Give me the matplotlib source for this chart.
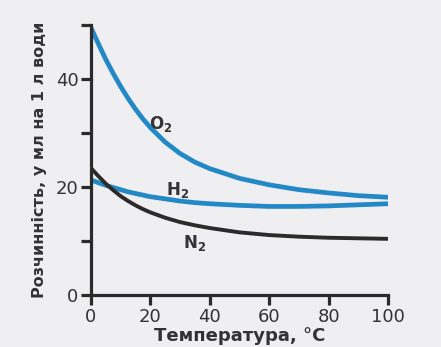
import matplotlib
matplotlib.use("Agg")
import matplotlib.pyplot as plt

# Solubility of gases in water (ml per 1 l) vs temperature
temps = [0, 2.5, 5, 7.5, 10, 12.5, 15, 17.5, 20, 25, 30, 35, 40, 50, 60, 70, 80, 90, 100]
o2 = [49.5, 46.5, 43.6, 41.0, 38.6, 36.4, 34.4, 32.6, 31.0, 28.3, 26.2, 24.6, 23.4,
      21.6, 20.4, 19.5, 18.9, 18.4, 18.1]
h2 = [21.3, 20.8, 20.3, 19.9, 19.5, 19.1, 18.8, 18.5, 18.2, 17.8, 17.4, 17.1, 16.9,
      16.6, 16.4, 16.4, 16.5, 16.7, 16.9]
n2 = [23.5, 22.0, 20.6, 19.4, 18.3, 17.4, 16.6, 15.9, 15.3, 14.3, 13.5, 12.9, 12.4,
      11.6, 11.1, 10.8, 10.6, 10.5, 10.4]

x_ticks = [0, 20, 40, 60, 80, 100]
y_ticks = [0, 10, 20, 30, 40, 50]
y_labels = ["0", "", "20", "", "40", ""]

plt.rcParams["font.family"] = ["DejaVu Sans"]
plt.rcParams["mathtext.fontset"] = "dejavusans"

BLUE = "#2288c6"
DARK = "#2d2a2a"
TXT = "#333333"
BG = "#efeff1"

fig = plt.figure(figsize=(4.41, 3.47), dpi=100, facecolor=BG)
ax = fig.add_axes([91 / 441, 1 - 295 / 347, 297 / 441, 270 / 347])
ax.set_facecolor(BG)

ax.plot(temps, o2, color=BLUE, lw=3.4, solid_capstyle="butt")
ax.plot(temps, h2, color=BLUE, lw=3.4, solid_capstyle="butt")
ax.plot(temps, n2, color=DARK, lw=2.8, solid_capstyle="butt")

ax.text(23.6, 31.7, r"$\mathbf{O_2}$", fontsize=12, color=TXT, ha="center", va="center")
ax.text(29, 19.4, r"$\mathbf{H_2}$", fontsize=12, color=TXT, ha="center", va="center")
ax.text(35, 9.6, r"$\mathbf{N_2}$", fontsize=12, color=TXT, ha="center", va="center")

ax.set_xlim(0, 100)
ax.set_ylim(0, 50)
ax.set_xticks(x_ticks)
ax.set_yticks(y_ticks)
ax.set_yticklabels(y_labels)

for side in ("top", "right"):
    ax.spines[side].set_visible(False)
for side in ("left", "bottom"):
    ax.spines[side].set_color(DARK)
    ax.spines[side].set_linewidth(2.3)
ax.tick_params(direction="out", length=7, width=2.3, color=DARK,
               labelsize=13, labelcolor=TXT, pad=2)

ax.set_xlabel("Температура, °C", fontsize=13, fontweight="bold", color=TXT, labelpad=1)
ax.set_ylabel("Розчинність, у мл на 1 л води", fontsize=11.5, fontweight="bold",
              color=TXT, labelpad=6)

fig.savefig("out.png", dpi=100, facecolor=BG)
